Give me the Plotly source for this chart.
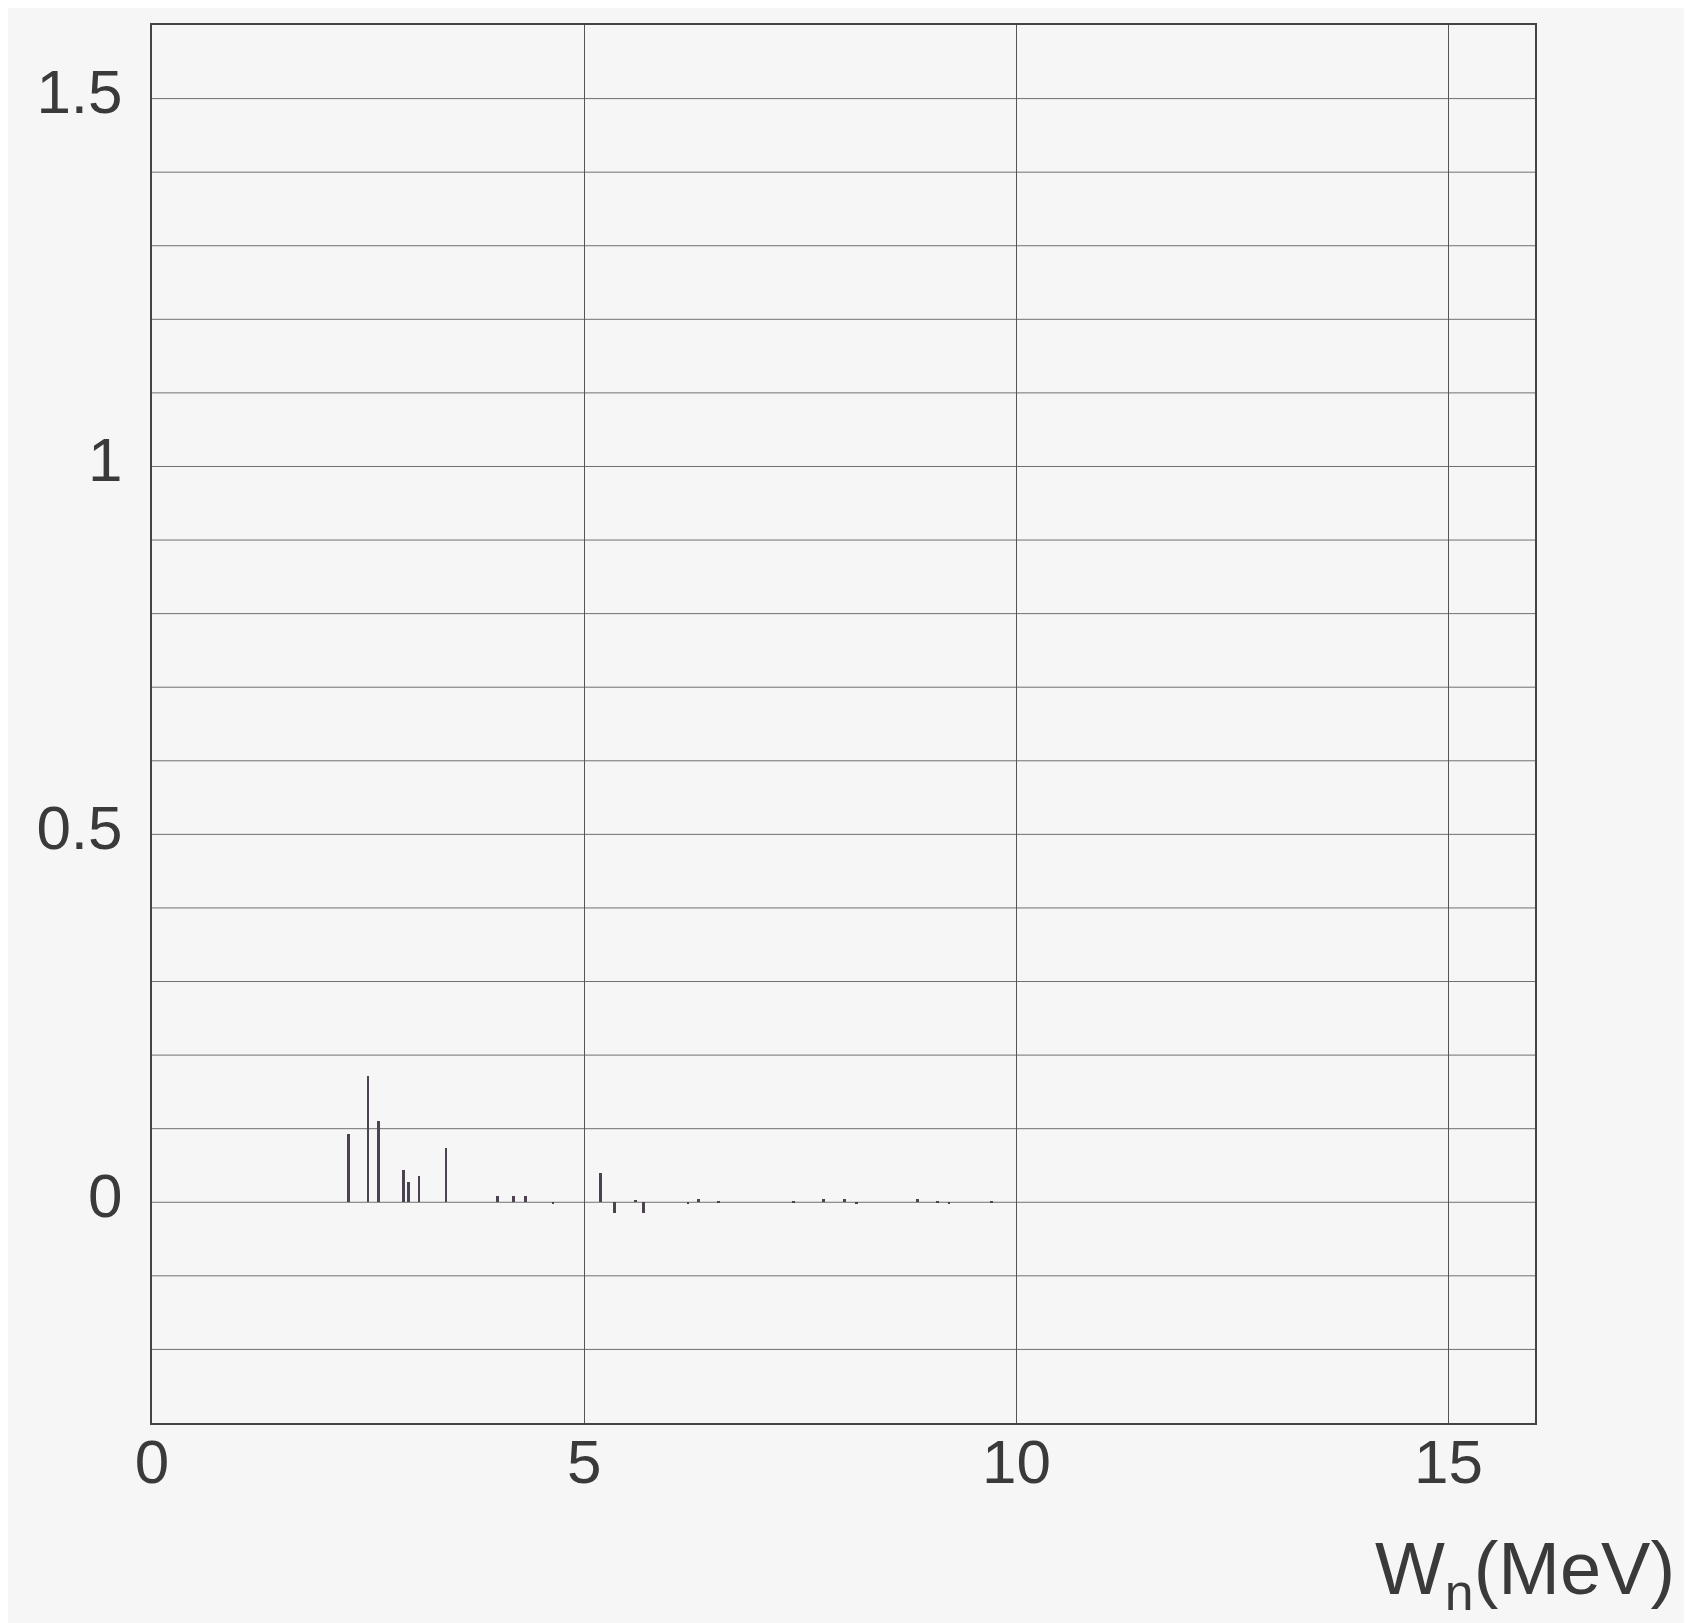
import plotly.graph_objects as go

# Neutron energy W_n (MeV) of each line and its value
energy_mev = [2.27, 2.50, 2.62, 2.91, 2.97, 3.09, 3.40,
              4.00, 4.18, 4.32, 4.64, 5.19, 5.35, 5.59, 5.69,
              6.20, 6.32, 6.55, 7.42, 7.77, 8.01, 8.15, 8.86,
              9.09, 9.22, 9.71]
values = [0.093, 0.171, 0.110, 0.044, 0.027, 0.036, 0.074,
          0.008, 0.008, 0.008, -0.002, 0.040, -0.015, 0.003, -0.015,
          -0.003, 0.004, 0.002, 0.002, 0.004, 0.004, -0.002, 0.005,
          0.002, -0.002, 0.002]

x_ticks = [0, 5, 10, 15]
x_tick_labels = ["0", "5", "10", "15"]
y_ticks = [0, 0.5, 1, 1.5]
y_tick_labels = ["0", "0.5", "1", "1.5"]

bg = "#f7f6f7"
ink = "#3a3a3a"

fig = go.Figure()
fig.add_trace(go.Bar(
    x=energy_mev, y=values, width=0.032,
    marker=dict(color="#4d4250", line=dict(width=0)),
    showlegend=False,
))

# horizontal grid lines every 0.1
for i in range(-2, 16):
    fig.add_hline(y=i / 10, line=dict(color="#707070", width=1), layer="below")

fig.update_layout(
    width=1692, height=1623,
    paper_bgcolor=bg, plot_bgcolor=bg,
    margin=dict(l=144, r=165, t=17, b=208),
    font=dict(family="Liberation Sans, Arial, sans-serif", color=ink, size=62),
    bargap=0,
)
fig.update_xaxes(
    range=[0, 16], tickvals=x_ticks, ticktext=x_tick_labels,
    showgrid=True, gridcolor="#555555", gridwidth=1,
    zeroline=False, showline=True, mirror=True, linecolor="#444444", linewidth=2,
    ticks="", ticklabelstandoff=-16,
)
fig.update_yaxes(
    range=[-0.3, 1.6], tickvals=y_ticks, ticktext=y_tick_labels,
    showgrid=False, zeroline=False,
    showline=True, mirror=True, linecolor="#444444", linewidth=2,
    ticks="", ticklabelstandoff=15, ticklabelshift=-7,
)
fig.add_annotation(
    text="W<sub>n</sub>(MeV)", xref="paper", yref="paper",
    x=1.103, y=-0.073, xanchor="right", yanchor="top",
    showarrow=False, font=dict(size=74, color=ink),
)

fig.write_html("out.html")
